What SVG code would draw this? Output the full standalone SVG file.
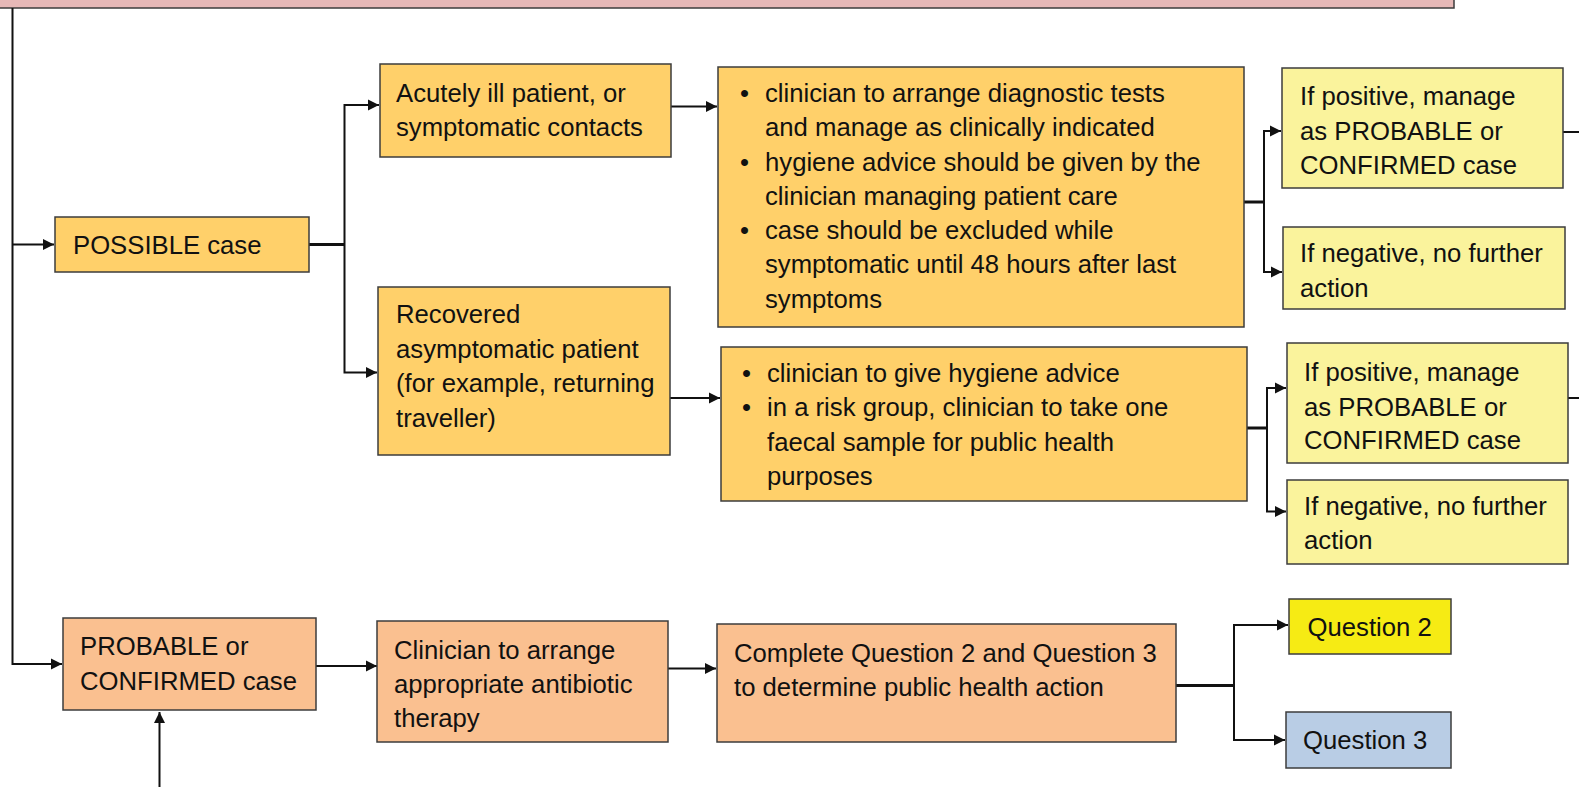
<svg xmlns="http://www.w3.org/2000/svg" width="1579" height="787" viewBox="0 0 1579 787">
<style>
  .box { stroke: #3c3c3c; stroke-width: 1.5; }
  .orange { fill: #FFD06A; }
  .peach { fill: #FAC090; }
  .pale { fill: #FAF39C; }
  .yel { fill: #F6EB14; }
  .blue { fill: #B9CDE5; }
  .pink { fill: #E6B8B7; }
  text { font-family: "Liberation Sans", Arial, sans-serif; font-size: 25.7px; fill: #111; }
  .ln { fill: none; stroke: #111; stroke-width: 2; }
  .stub { fill: none; stroke: #111; stroke-width: 3; }
</style>
<defs>
  <marker id="arr" markerUnits="userSpaceOnUse" markerWidth="12" markerHeight="12" refX="11" refY="6" orient="auto">
    <path d="M0,0.5 L11,6 L0,11.5 z" fill="#111"/>
  </marker>
</defs>
<rect width="1579" height="787" fill="#ffffff"/>

<g id="banner">
  <rect class="box pink" x="-2" y="-10" width="1456" height="18"/>
</g>

<g id="connectors">
  <path class="ln" d="M12.5,8 V664 H62" marker-end="url(#arr)"/>
  <path class="ln" d="M12.5,244.5 H54" marker-end="url(#arr)"/>
  <path class="stub" d="M309,244.5 H344.5"/>
  <path class="ln" d="M378,105 H344.5 V372.5 H377" marker-end="url(#arr)"/>
  <path class="ln" d="M344.5,105 H379" marker-end="url(#arr)"/>
  <path class="ln" d="M671,106.5 H717" marker-end="url(#arr)"/>
  <path class="ln" d="M670,398 H720" marker-end="url(#arr)"/>
  <path class="stub" d="M1244,202 H1264"/>
  <path class="ln" d="M1280,131 H1264 V272 H1282" marker-end="url(#arr)"/>
  <path class="ln" d="M1264,131 H1281" marker-end="url(#arr)"/>
  <path class="stub" d="M1247,428 H1267"/>
  <path class="ln" d="M1285,388 H1267 V511.5 H1286" marker-end="url(#arr)"/>
  <path class="ln" d="M1267,388 H1286" marker-end="url(#arr)"/>
  <path class="ln" d="M1563,132 H1579"/>
  <path class="ln" d="M1568,398 H1579"/>
  <path class="ln" d="M316,666 H377" marker-end="url(#arr)"/>
  <path class="ln" d="M668,668.5 H716" marker-end="url(#arr)"/>
  <path class="stub" d="M1176,685.5 H1234"/>
  <path class="ln" d="M1287,625 H1234 V740 H1285" marker-end="url(#arr)"/>
  <path class="ln" d="M1234,625 H1288" marker-end="url(#arr)"/>
  <path class="ln" d="M159.5,787 V712" marker-end="url(#arr)"/>
</g>

<g id="possible">
  <rect class="box orange" x="55" y="217" width="254" height="55"/>
  <text x="73" y="254">POSSIBLE case</text>
</g>

<g id="acutely">
  <rect class="box orange" x="380" y="64" width="291" height="93"/>
  <text x="396" y="102">Acutely ill patient, or</text>
  <text x="396" y="136">symptomatic contacts</text>
</g>

<g id="recovered">
  <rect class="box orange" x="378" y="287" width="292" height="168"/>
  <text x="396" y="323">Recovered</text>
  <text x="396" y="357.5">asymptomatic patient</text>
  <text x="396" y="392">(for example, returning</text>
  <text x="396" y="426.5">traveller)</text>
</g>

<g id="actions-acute">
  <rect class="box orange" x="718" y="67" width="526" height="260"/>
  <text x="740" y="102">•</text>
  <text x="765" y="102">clinician to arrange diagnostic tests</text>
  <text x="765" y="136.3">and manage as clinically indicated</text>
  <text x="740" y="170.5">•</text>
  <text x="765" y="170.5">hygiene advice should be given by the</text>
  <text x="765" y="204.8">clinician managing patient care</text>
  <text x="740" y="239">•</text>
  <text x="765" y="239">case should be excluded while</text>
  <text x="765" y="273.3">symptomatic until 48 hours after last</text>
  <text x="765" y="307.5">symptoms</text>
</g>

<g id="actions-recovered">
  <rect class="box orange" x="721" y="347" width="526" height="154"/>
  <text x="742" y="381.5">•</text>
  <text x="767" y="381.5">clinician to give hygiene advice</text>
  <text x="742" y="416">•</text>
  <text x="767" y="416">in a risk group, clinician to take one</text>
  <text x="767" y="450.5">faecal sample for public health</text>
  <text x="767" y="485">purposes</text>
</g>

<g id="positive-1">
  <rect class="box pale" x="1282" y="68" width="281" height="120"/>
  <text x="1300" y="105">If positive, manage</text>
  <text x="1300" y="139.5">as PROBABLE or</text>
  <text x="1300" y="174">CONFIRMED case</text>
</g>

<g id="negative-1">
  <rect class="box pale" x="1283" y="227" width="282" height="82"/>
  <text x="1300" y="262">If negative, no further</text>
  <text x="1300" y="296.5">action</text>
</g>

<g id="positive-2">
  <rect class="box pale" x="1287" y="343" width="281" height="120"/>
  <text x="1304" y="381">If positive, manage</text>
  <text x="1304" y="415.5">as PROBABLE or</text>
  <text x="1304" y="449">CONFIRMED case</text>
</g>

<g id="negative-2">
  <rect class="box pale" x="1287" y="480" width="281" height="84"/>
  <text x="1304" y="514.5">If negative, no further</text>
  <text x="1304" y="549">action</text>
</g>

<g id="probable">
  <rect class="box peach" x="63" y="618" width="253" height="92"/>
  <text x="80" y="655">PROBABLE or</text>
  <text x="80" y="689.5">CONFIRMED case</text>
</g>

<g id="antibiotic">
  <rect class="box peach" x="377" y="621" width="291" height="121"/>
  <text x="394" y="658.5">Clinician to arrange</text>
  <text x="394" y="693">appropriate antibiotic</text>
  <text x="394" y="727">therapy</text>
</g>

<g id="complete">
  <rect class="box peach" x="717" y="624" width="459" height="118"/>
  <text x="734" y="661.5">Complete Question 2 and Question 3</text>
  <text x="734" y="696">to determine public health action</text>
</g>

<g id="question-2">
  <rect class="box yel" x="1289" y="599" width="162" height="55"/>
  <text x="1307.5" y="636">Question 2</text>
</g>

<g id="question-3">
  <rect class="box blue" x="1286" y="712" width="165" height="56"/>
  <text x="1303" y="749">Question 3</text>
</g>
</svg>
